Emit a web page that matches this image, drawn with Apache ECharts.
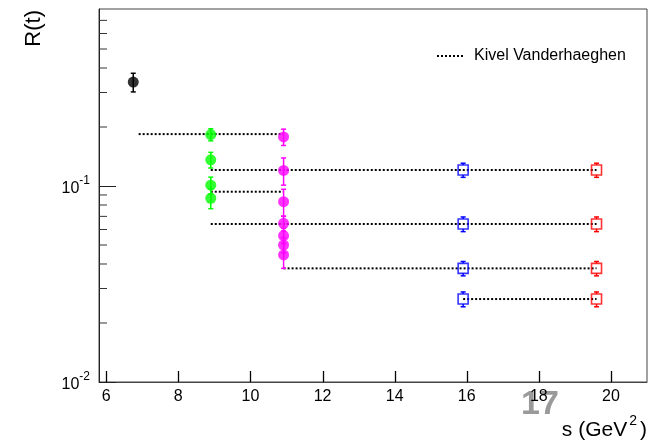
<!DOCTYPE html>
<html>
<head>
<meta charset="utf-8">
<script src="https://cdn.jsdelivr.net/npm/echarts@6/dist/echarts.min.js"></script>
<style>
  html, body { margin: 0; padding: 0; background: #fff; }
  #chart { width: 650px; height: 440px; }
</style>
</head>
<body>
<div id="chart"></div>
<script>
// ---- data ----
const blackS = [6.75];
const blackR = [0.339];
const blackErr = [0.037];

const greenS = [8.9, 8.9, 8.9, 8.9];
const greenR = [0.183, 0.136, 0.101, 0.0866];
const greenErr = [0.013, 0.0125, 0.010, 0.010];

const magentaS = [10.92, 10.92, 10.92, 10.92, 10.92, 10.92, 10.92];
const magentaR = [0.178, 0.120, 0.0832, 0.0645, 0.0558, 0.0500, 0.0445];
const magentaErr = [0.017, 0.019, 0.013, 0.0055, 0.005, 0.0045, 0.0065];

const blueS = [15.9, 15.9, 15.9, 15.9];
const blueR = [0.1207, 0.064, 0.038, 0.0265];
const blueErr = [0.010, 0.0055, 0.0032, 0.0023];

const redS = [19.6, 19.6, 19.6, 19.6];
const redR = [0.1207, 0.064, 0.038, 0.0265];
const redErr = [0.010, 0.0055, 0.0032, 0.0023];

// Kivel Vanderhaeghen (dotted horizontal segments)
const kvR = [0.184, 0.1207, 0.0935, 0.064, 0.038, 0.0265];
const kvFrom = [6.9, 8.9, 8.9, 8.9, 10.92, 15.9];
const kvTo = [10.92, 19.6, 10.92, 19.6, 19.6, 19.6];

const xTickStep = 2;
const xMajorTicks = [6, 8, 10, 12, 14, 16, 18, 20];
const yMinorTicks = [0.02, 0.03, 0.04, 0.05, 0.06, 0.07, 0.08, 0.09, 0.2, 0.3, 0.4, 0.5, 0.6, 0.7];

const X_MIN = 5.8, X_MAX = 21, Y_MIN = 0.01, Y_MAX = 0.8;
const FONT = '"Liberation Sans", Arial, Helvetica, sans-serif';

const chart = echarts.init(document.getElementById('chart'), null, { renderer: 'canvas' });

function zip3(a, b, c) { return a.map((v, i) => [v, b[i], c[i]]); }

function errSeries(name, s, r, e, color, gap) {
  return {
    type: 'custom',
    name: name,
    silent: true,
    data: zip3(s, r, e),
    renderItem: function (params, api) {
      const x = api.value(0), y = api.value(1), er = api.value(2);
      const c = api.coord([x, y]);
      const t = api.coord([x, y + er]);
      const b = api.coord([x, y - er]);
      const st = { stroke: color, lineWidth: 1.5 };
      const ch = [];
      if (gap > 0) {
        if (c[1] - gap > t[1]) ch.push({ type: 'line', shape: { x1: c[0], y1: c[1] - gap, x2: c[0], y2: t[1] }, style: st });
        if (c[1] + gap < b[1]) ch.push({ type: 'line', shape: { x1: c[0], y1: c[1] + gap, x2: c[0], y2: b[1] }, style: st });
      } else {
        ch.push({ type: 'line', shape: { x1: c[0], y1: t[1], x2: c[0], y2: b[1] }, style: st });
      }
      ch.push({ type: 'line', shape: { x1: c[0] - 2.5, y1: t[1], x2: c[0] + 2.5, y2: t[1] }, style: st });
      ch.push({ type: 'line', shape: { x1: c[0] - 2.5, y1: b[1], x2: c[0] + 2.5, y2: b[1] }, style: st });
      return { type: 'group', children: ch };
    },
    z: 3
  };
}

function markerSeries(s, r, color, open) {
  return {
    type: 'scatter',
    silent: true,
    data: s.map((v, i) => [v, r[i]]),
    symbol: open ? 'rect' : 'circle',
    symbolSize: open ? 10 : 11,
    itemStyle: open
      ? { color: 'rgba(0,0,0,0)', borderColor: color, borderWidth: 1.6 }
      : { color: color },
    z: 4
  };
}

const kvSeries = kvR.map((r, i) => ({
  type: 'line',
  name: 'Kivel Vanderhaeghen',
  silent: true,
  symbol: 'none',
  data: [[kvFrom[i], r], [kvTo[i], r]],
  itemStyle: { color: '#000' },
  lineStyle: { color: '#000', width: 2, type: [2, 2] },
  z: 2
}));

const option = {
  animation: false,
  backgroundColor: '#fff',
  grid: { left: 99, right: 3, top: 9, bottom: 58, show: true, borderColor: '#444', borderWidth: 1, backgroundColor: 'transparent' },
  legend: {
    data: ['Kivel Vanderhaeghen'],
    left: 431, top: 43,
    itemWidth: 26, itemHeight: 14,
    selectedMode: false,
    itemStyle: { opacity: 0 },
    lineStyle: { color: '#000', width: 2, type: [2, 2] },
    formatter: '{t|{name}}',
    textStyle: { rich: { t: { fontSize: 16, fontFamily: FONT, color: '#000', padding: [0, 0, 0, 6] } } }
  },
  xAxis: {
    type: 'value', min: X_MIN, max: X_MAX,
    splitNumber: 8, minInterval: xTickStep, maxInterval: xTickStep,
    axisLine: { lineStyle: { color: '#444', width: 1 } },
    axisTick: { show: false },
    axisLabel: { color: '#000', fontSize: 16, fontFamily: FONT, margin: 7, showMinLabel: false, showMaxLabel: false },
    splitLine: { show: false }
  },
  yAxis: {
    type: 'log', logBase: 10, min: Y_MIN, max: Y_MAX,
    axisLine: { lineStyle: { color: '#222', width: 1 } },
    axisTick: { inside: true, length: 17, lineStyle: { color: '#222' } },
    minorTick: { show: false },
    splitLine: { show: false },
    axisLabel: {
      margin: 9, showMaxLabel: false,
      formatter: function (v) { const e = Math.round(Math.log10(v)); return '{b|10}{s|' + e + '}'; },
      rich: {
        b: { fontSize: 16, fontFamily: FONT, color: '#000', lineHeight: 22, verticalAlign: 'bottom' },
        s: { fontSize: 12, fontFamily: FONT, color: '#000', lineHeight: 12, verticalAlign: 'top' }
      }
    }
  },
  graphic: [
    { type: 'text', x: 34, y: 10, rotation: Math.PI / 2,
      style: { text: 'R(t)', font: '22px ' + FONT, fill: '#000', align: 'right', verticalAlign: 'middle' } },
    { type: 'text', x: 647, y: 441,
      style: {
        text: '{n|s (GeV}{p|2}{n|)}', align: 'right', verticalAlign: 'bottom',
        rich: {
          n: { fontSize: 21, fontFamily: FONT, fill: '#000', color: '#000', lineHeight: 27, verticalAlign: 'bottom' },
          p: { fontSize: 14, fontFamily: FONT, fill: '#000', color: '#000', lineHeight: 14, verticalAlign: 'top', padding: [0, 3, 0, 2] }
        }
      } },
    { type: 'text', x: 521, y: 388,
      style: { text: '17', font: 'bold 34px ' + FONT, fill: '#9a9a9a' } }
  ],
  series: [
    ...kvSeries,
    {
      type: 'custom', name: 'minorTicks', silent: true,
      data: yMinorTicks.map(v => [X_MIN, v]),
      renderItem: function (params, api) {
        const p = api.coord([api.value(0), api.value(1)]);
        return { type: 'line', shape: { x1: p[0], y1: p[1], x2: p[0] + 8, y2: p[1] }, style: { stroke: '#333', lineWidth: 1 } };
      },
      z: 1
    },
    {
      type: 'custom', name: 'xTicks', silent: true,
      data: xMajorTicks.map(v => [v, Y_MIN]),
      renderItem: function (params, api) {
        const p = api.coord([api.value(0), api.value(1)]);
        const x = Math.round(p[0]) + 0.5;
        return { type: 'line', shape: { x1: x, y1: p[1], x2: x, y2: p[1] - 11 }, style: { stroke: '#000', lineWidth: 1.3 } };
      },
      z: 5
    },
    errSeries('e0', blackS, blackR, blackErr, '#000', 0),
    errSeries('e1', greenS, greenR, greenErr, '#00ff00', 0),
    errSeries('e2', magentaS, magentaR, magentaErr, '#ff00ff', 0),
    errSeries('e3', blueS, blueR, blueErr, '#0000ff', 5),
    errSeries('e4', redS, redR, redErr, '#ff0000', 5),
    markerSeries(blackS, blackR, '#000', false),
    markerSeries(greenS, greenR, '#00ff00', false),
    markerSeries(magentaS, magentaR, '#ff00ff', false),
    markerSeries(blueS, blueR, '#0000ff', true),
    markerSeries(redS, redR, '#ff0000', true)
  ]
};

chart.setOption(option);
</script>
</body>
</html>
